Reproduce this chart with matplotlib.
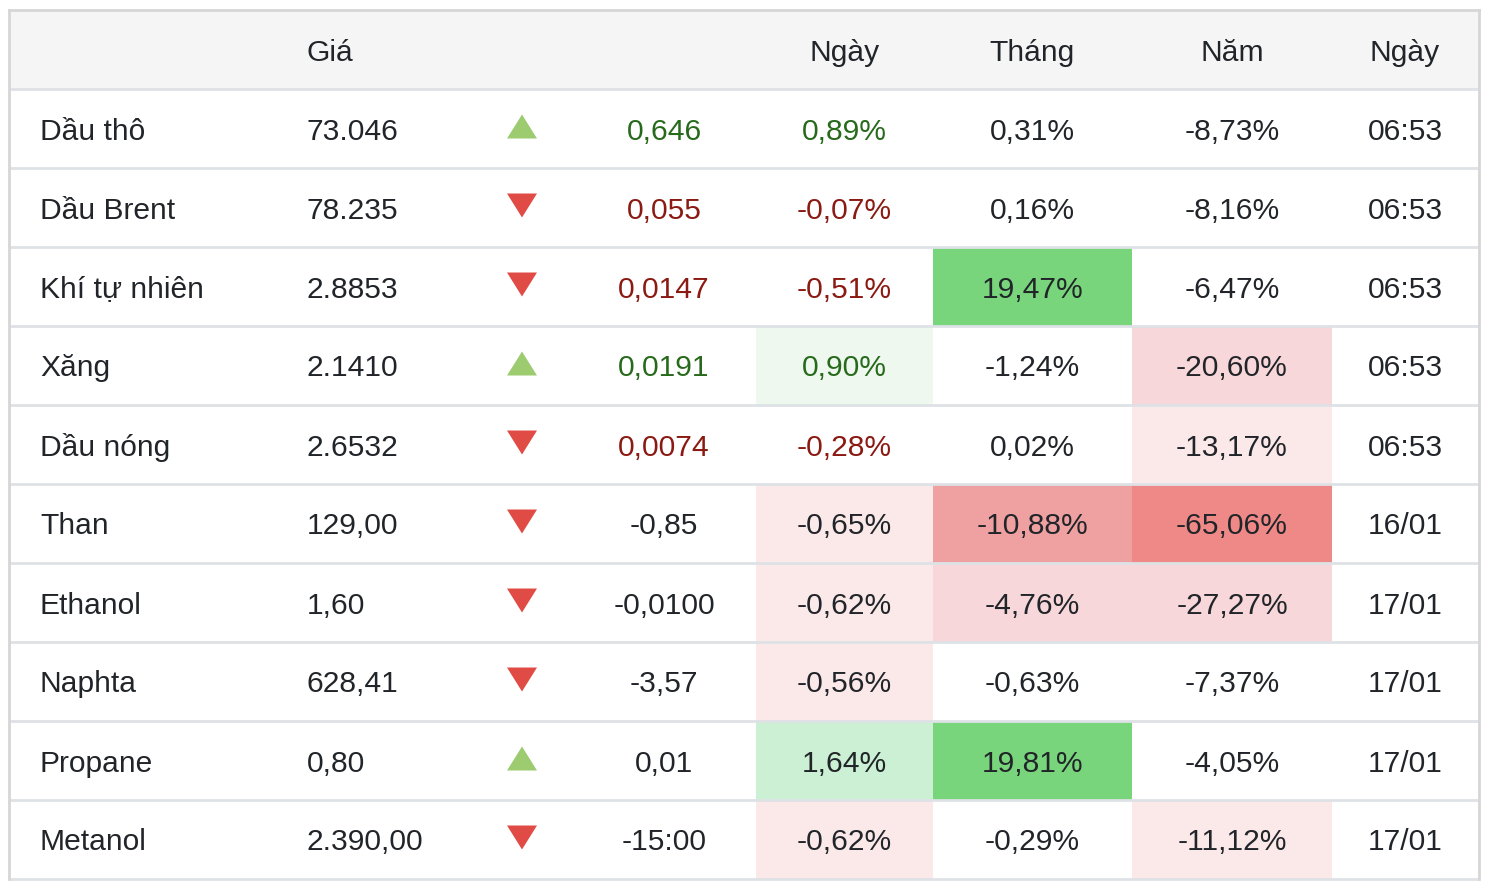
import matplotlib
matplotlib.use("Agg")
import matplotlib.pyplot as plt
from matplotlib.patches import Rectangle, Polygon

plt.rcParams['font.family'] = ['Liberation Sans', 'DejaVu Sans']

# ---- data ----
headers = ["", "Giá", "", "", "Ngày", "Tháng", "Năm", "Ngày"]
names = ["Dầu thô", "Dầu Brent", "Khí tự nhiên", "Xăng", "Dầu nóng",
         "Than", "Ethanol", "Naphta", "Propane", "Metanol"]
prices = ["73.046", "78.235", "2.8853", "2.1410", "2.6532",
          "129,00", "1,60", "628,41", "0,80", "2.390,00"]
direction = [1, -1, -1, 1, -1, -1, -1, -1, 1, -1]
changes = ["0,646", "0,055", "0,0147", "0,0191", "0,0074",
           "-0,85", "-0,0100", "-3,57", "0,01", "-15:00"]
day_pct = ["0,89%", "-0,07%", "-0,51%", "0,90%", "-0,28%",
           "-0,65%", "-0,62%", "-0,56%", "1,64%", "-0,62%"]
month_pct = ["0,31%", "0,16%", "19,47%", "-1,24%", "0,02%",
             "-10,88%", "-4,76%", "-0,63%", "19,81%", "-0,29%"]
year_pct = ["-8,73%", "-8,16%", "-6,47%", "-20,60%", "-13,17%",
            "-65,06%", "-27,27%", "-7,37%", "-4,05%", "-11,12%"]
times = ["06:53", "06:53", "06:53", "06:53", "06:53",
         "16/01", "17/01", "17/01", "17/01", "17/01"]
# colored text for change / day % (first five rows are live quotes)
colored_text = [True, True, True, True, True, False, False, False, False, False]
# heat shades: 0 none, +1..+3 green, -1..-4 red
day_shade = [0, 0, 0, 1, 0, -1, -1, -1, 2, -1]
month_shade = [0, 0, 3, 0, 0, -3, -2, 0, 3, 0]
year_shade = [0, 0, 0, -2, -1, -4, -2, 0, 0, -1]

shade_colors = {0: None, 1: "#eef8ef", 2: "#cbf0d3", 3: "#78d57c",
                -1: "#fbe9ea", -2: "#f7d7d9", -3: "#eea1a0", -4: "#ef8987"}

# ---- layout ----
W, H = 1492, 886
fig = plt.figure(figsize=(W / 100, H / 100), dpi=100)
ax = fig.add_axes([0, 0, 1, 1])
ax.set_xlim(0, W)
ax.set_ylim(H, 0)
ax.axis("off")

left, right = 9, 1479
top = 10
header_h = 79
row_h = 79
fs = 21.6
dark = "#212529"
green_txt = "#276a1b"
red_txt = "#8a1a12"
up_col = "#9ccc6f"
down_col = "#e04c45"
line_col = "#dee2e6"

name_x = 40
price_x = 307
arrow_x = 522
change_x = 664
day_bounds = (756, 933)
month_bounds = (933, 1132)
year_bounds = (1132, 1332)
time_x = 1405
dy = 3

n = len(names)
bottom = top + header_h + n * row_h

# header background
ax.add_patch(Rectangle((left, top), right - left, header_h, facecolor="#f5f5f5",
                       edgecolor="none", zorder=0))
hy = top + header_h / 2 + dy
ax.text(price_x, hy, headers[1], ha="left", va="center", fontsize=fs, color=dark)
ax.text(sum(day_bounds) / 2, hy, headers[4], ha="center", va="center", fontsize=fs, color=dark)
ax.text(sum(month_bounds) / 2, hy, headers[5], ha="center", va="center", fontsize=fs, color=dark)
ax.text(sum(year_bounds) / 2, hy, headers[6], ha="center", va="center", fontsize=fs, color=dark)
ax.text(time_x, hy, headers[7], ha="center", va="center", fontsize=fs, color=dark)

for i in range(n):
    y0 = top + header_h + i * row_h
    yc = y0 + row_h / 2 + dy
    for bounds, sh in ((day_bounds, day_shade[i]), (month_bounds, month_shade[i]),
                       (year_bounds, year_shade[i])):
        c = shade_colors[sh]
        if c:
            ax.add_patch(Rectangle((bounds[0], y0), bounds[1] - bounds[0], row_h,
                                   facecolor=c, edgecolor="none", zorder=0))
    ax.text(name_x, yc, names[i], ha="left", va="center", fontsize=fs, color=dark)
    ax.text(price_x, yc, prices[i], ha="left", va="center", fontsize=fs, color=dark)
    hw, hh = 15, 12
    ac = y0 + row_h / 2 - 2
    if direction[i] > 0:
        pts = [(arrow_x - hw, ac + hh), (arrow_x + hw, ac + hh), (arrow_x, ac - hh)]
        col = up_col
    else:
        pts = [(arrow_x - hw, ac - hh), (arrow_x + hw, ac - hh), (arrow_x, ac + hh)]
        col = down_col
    ax.add_patch(Polygon(pts, closed=True, facecolor=col, edgecolor="none", zorder=2))
    if colored_text[i]:
        tc = green_txt if direction[i] > 0 else red_txt
    else:
        tc = dark
    ax.text(change_x, yc, changes[i], ha="center", va="center", fontsize=fs, color=tc)
    ax.text(sum(day_bounds) / 2, yc, day_pct[i], ha="center", va="center", fontsize=fs, color=tc)
    ax.text(sum(month_bounds) / 2, yc, month_pct[i], ha="center", va="center", fontsize=fs, color=dark)
    ax.text(sum(year_bounds) / 2, yc, year_pct[i], ha="center", va="center", fontsize=fs, color=dark)
    ax.text(time_x, yc, times[i], ha="center", va="center", fontsize=fs, color=dark)

for i in range(n + 1):
    y = top + header_h + i * row_h
    ax.plot([left, right], [y, y], color=line_col, lw=2, zorder=3, solid_capstyle="butt")
ax.plot([left, right], [top, top], color="#d6d6d6", lw=2, zorder=3)
ax.plot([left, left], [top, bottom], color="#d6d6d6", lw=2, zorder=3)
ax.plot([right, right], [top, bottom], color="#d6d6d6", lw=2, zorder=3)

fig.savefig("out.png", dpi=100, facecolor="white")
